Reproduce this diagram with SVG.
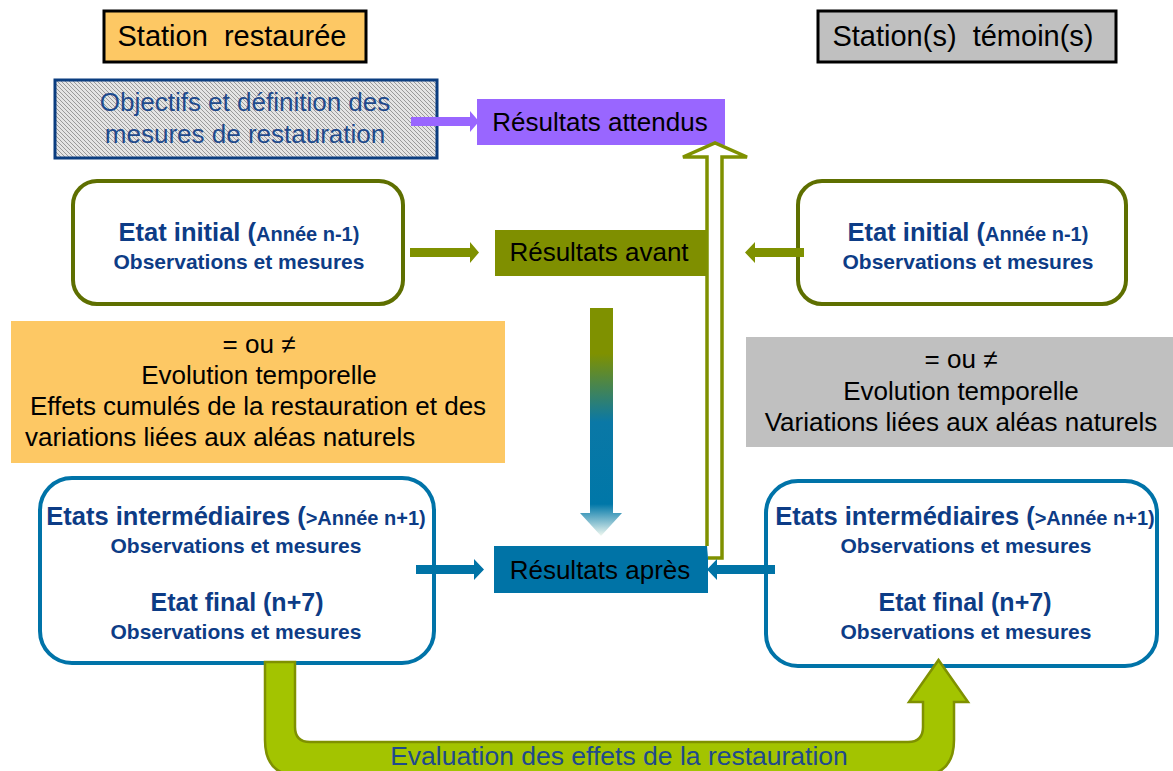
<svg xmlns="http://www.w3.org/2000/svg" width="1173" height="771" viewBox="0 0 1173 771">
<defs>
<pattern id="hatch" width="4" height="4" patternUnits="userSpaceOnUse">
<rect width="4" height="4" fill="#e4e4e4"/>
<path d="M-1,-1 L5,5 M-1,3 L1,5 M3,-1 L5,1" stroke="#9a9a9a" stroke-width="1"/>
</pattern>
<linearGradient id="grad" x1="0" y1="308" x2="0" y2="536" gradientUnits="userSpaceOnUse">
<stop offset="0" stop-color="#7F9100"/>
<stop offset="0.2" stop-color="#7F9100"/>
<stop offset="0.5" stop-color="#0A78A6"/>
<stop offset="0.86" stop-color="#0077A8"/>
<stop offset="1" stop-color="#f0f8f0"/>
</linearGradient>
<style>
.t{font-family:"Liberation Sans",Arial,sans-serif;text-anchor:middle}
.blk{fill:#000}
.db{fill:#0D3C86;font-weight:bold}
.sm{font-size:20px}
.rnd{fill:#fff;stroke-width:4}
</style>
</defs>

<g id="station-restauree">
<rect x="104" y="11" width="262" height="51" fill="#FDC864" stroke="#000" stroke-width="3"/>
<text class="t blk" x="232" y="46" font-size="29">Station&#160; restaurée</text>
</g>
<g id="station-temoin">
<rect x="818" y="11" width="298" height="51" fill="#C0C0C0" stroke="#000" stroke-width="3"/>
<text class="t blk" x="963" y="46" font-size="29">Station(s)&#160; témoin(s)</text>
</g>
<g id="objectifs">
<rect x="55" y="80" width="382" height="78" fill="url(#hatch)" stroke="#0B3D80" stroke-width="3"/>
<text class="t" x="245" y="111" font-size="26" fill="#1F4A8C">Objectifs et définition des</text>
<text class="t" x="245" y="143" font-size="26" fill="#1F4A8C">mesures de restauration</text>
</g>
<g id="resultats-attendus">
<rect x="477" y="99" width="248" height="46" fill="#9966FF"/>
<text class="t blk" x="600" y="131" font-size="26">Résultats attendus</text>
</g>
<g id="resultats-avant">
<rect x="495" y="230" width="211" height="46" fill="#7F8F00"/>
<text class="t blk" x="599" y="261" font-size="26">Résultats avant</text>
</g>
<g id="resultats-apres">
<rect x="494" y="546" width="214" height="47" fill="#0073A6"/>
<text class="t blk" x="600" y="579" font-size="26">Résultats après</text>
</g>
<g id="etat-initial-restauree">
<rect class="rnd" x="73" y="181" width="330" height="123" rx="24" stroke="#5E6F00"/>
<text class="t db" x="239" y="241" font-size="25.5">Etat initial (<tspan class="sm">Année n-1)</tspan></text>
<text class="t db" x="239" y="269" font-size="21">Observations et mesures</text>
</g>
<g id="etat-initial-temoin">
<rect class="rnd" x="798" y="181" width="328" height="123" rx="24" stroke="#5E6F00"/>
<text class="t db" x="968" y="241" font-size="25.5">Etat initial (<tspan class="sm">Année n-1)</tspan></text>
<text class="t db" x="968" y="269" font-size="21">Observations et mesures</text>
</g>
<g id="evolution-restauree">
<rect x="11" y="321" width="494" height="142" fill="#FDC864"/>
<text class="t blk" x="259" y="353" font-size="26">= ou ≠</text>
<text class="t blk" x="259" y="384" font-size="26">Evolution temporelle</text>
<text class="t blk" x="258" y="415" font-size="26">Effets cumulés de la restauration et des</text>
<text class="t blk" x="25" y="446" font-size="26" style="text-anchor:start">variations liées aux aléas naturels</text>
</g>
<g id="evolution-temoin">
<rect x="746" y="337" width="427" height="110" fill="#C0C0C0"/>
<text class="t blk" x="961" y="368" font-size="26">= ou ≠</text>
<text class="t blk" x="961" y="400" font-size="26">Evolution temporelle</text>
<text class="t blk" x="961" y="431" font-size="26">Variations liées aux aléas naturels</text>
</g>
<g id="etats-restauree">
<rect class="rnd" x="40" y="478" width="394" height="185" rx="32" stroke="#0073A8"/>
<text class="t db" x="236" y="525" font-size="25.5">Etats intermédiaires (<tspan class="sm">&gt;Année n+1)</tspan></text>
<text class="t db" x="236" y="553" font-size="21">Observations et mesures</text>
<text class="t db" x="237" y="611" font-size="25">Etat final (n+7)</text>
<text class="t db" x="236" y="639" font-size="21">Observations et mesures</text>
</g>
<g id="etats-temoin">
<rect class="rnd" x="766" y="481" width="391" height="185" rx="32" stroke="#0073A8"/>
<text class="t db" x="965" y="525" font-size="25.5">Etats intermédiaires (<tspan class="sm">&gt;Année n+1)</tspan></text>
<text class="t db" x="966" y="553" font-size="21">Observations et mesures</text>
<text class="t db" x="965" y="611" font-size="25">Etat final (n+7)</text>
<text class="t db" x="966" y="639" font-size="21">Observations et mesures</text>
</g>

<g id="connectors">
<path d="M708,558 L722,558 L722,157 L747,157 L715,143 L683,157 L707,157 L707,546" fill="#fff" stroke="#7F9100" stroke-width="3.5"/>
<path d="M411,117 L470,117 L470,111 L479,121.5 L470,132 L470,126 L411,126 Z" fill="#9966FF"/>
<path d="M410,248 L470,248 L470,242 L479,252.5 L470,263 L470,257 L410,257 Z" fill="#7F9100"/>
<path d="M804,248 L755,248 L755,242 L745,252.5 L755,263 L755,257 L804,257 Z" fill="#7F9100"/>
<path d="M416,565 L474,565 L474,559 L484,569.5 L474,580 L474,574 L416,574 Z" fill="#0073A6"/>
<path d="M775,565 L717,565 L717,559 L707,569.5 L717,580 L717,574 L775,574 Z" fill="#0073A6"/>
<path d="M590,308 L613,308 L613,513 L622,513 L601,536 L580,513 L590,513 Z" fill="url(#grad)"/>
<path d="M265,662 L295,662 L295,727 Q295,742 310,742 L908,742 Q923,742 923,727 L923,702 L909,702 L938.5,660 L968,702 L954,702 L954,740 Q954,776 918,776 L300,776 Q265,776 265,740 Z" fill="#A3C400" stroke="#7F9100" stroke-width="2.5"/>
<text class="t" x="619" y="765" font-size="26.5" fill="#1F4A8C">Evaluation des effets de la restauration</text>
</g>
</svg>
